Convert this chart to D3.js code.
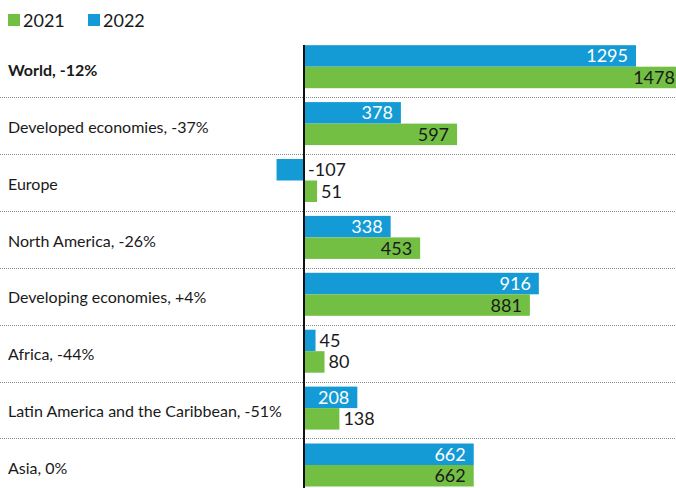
<!DOCTYPE html>
<html>
<head>
<meta charset="utf-8">
<script src="https://d3js.org/d3.v7.min.js"></script>
<style>
    body { margin: 0; background: #fff; }
    svg { display: block; font-family: Lato, "Open Sans", sans-serif; }
    .region-label { font-size: 16px; fill: #1a1a1a; }
    .region-label.bold { font-weight: bold; }
    .value-label { font-size: 18px; }
    .legend-text { font-size: 18px; fill: #1a1a1a; }
</style>
</head>
<body>
<svg id="chart"></svg>
<script>
// regions top to bottom
const regions = [
    "World, -12%",
    "Developed economies, -37%",
    "Europe",
    "North America, -26%",
    "Developing economies, +4%",
    "Africa, -44%",
    "Latin America and the Caribbean, -51%",
    "Asia, 0%"
];
const values2021 = [1478, 597, 51, 453, 881, 80, 138, 662];
const values2022 = [1295, 378, -107, 338, 916, 45, 208, 662];
const years = ["2022", "2021"];   // order inside each row (blue on top)
const legendYears = ["2021", "2022"];

const colors = { "2021": "#72bf44", "2022": "#149bd6" };

class barChart {
    constructor(_config) {
        this.config = {
            parentElement: _config.parentElement,
            containerWidth: _config.containerWidth,
            containerHeight: _config.containerHeight,
            zeroX: 304,
            top: 40.2,
            rowHeight: 56.9
        };
        this.data = [];
        regions.forEach((r, i) => {
            this.data.push({ region: r, year: "2022", value: values2022[i] });
            this.data.push({ region: r, year: "2021", value: values2021[i] });
        });
        this.initVis();
    }

    initVis() {
        let vis = this;

        vis.svg = d3.select(vis.config.parentElement)
            .attr('width', vis.config.containerWidth)
            .attr('height', vis.config.containerHeight);

        // 1295 ends at ~636px
        vis.xScale = d3.scaleLinear()
            .domain([0, 1295])
            .range([vis.config.zeroX, 636]);

        vis.yScale = d3.scaleBand()
            .domain(regions)
            .range([vis.config.top, vis.config.top + regions.length * vis.config.rowHeight])
            .paddingInner(0);

        vis.ySub = d3.scaleBand()
            .domain(years)
            .range([5, 48]);

        // legend
        const legend = vis.svg.append('g')
            .selectAll('g')
            .data(legendYears)
            .join('g')
            .attr('transform', (d, i) => `translate(${8 + i * 80}, 0)`);
        legend.append('rect')
            .attr('x', 0).attr('y', 14)
            .attr('width', 12).attr('height', 12)
            .attr('fill', d => colors[d]);
        legend.append('text')
            .attr('class', 'legend-text')
            .attr('x', 15).attr('y', 26.5)
            .text(d => d);

        // dotted separators
        vis.svg.append('g')
            .selectAll('line')
            .data(regions.slice(0, -1))
            .join('line')
            .attr('x1', 0).attr('x2', vis.config.containerWidth)
            .attr('y1', d => Math.round(vis.yScale(d) + vis.yScale.bandwidth()) + 0.5)
            .attr('y2', d => Math.round(vis.yScale(d) + vis.yScale.bandwidth()) + 0.5)
            .attr('stroke', '#8a8a8a')
            .attr('stroke-width', 1)
            .attr('stroke-dasharray', '1,1');

        // region labels
        vis.svg.append('g')
            .selectAll('text')
            .data(regions)
            .join('text')
            .attr('class', (d, i) => i === 0 ? 'region-label bold' : 'region-label')
            .attr('x', 8)
            .attr('y', d => vis.yScale(d) + 30)
            .attr('dy', '0.35em')
            .text(d => d);

        vis.updateVis();
    }

    updateVis() {
        let vis = this;
        const rowY = d => vis.yScale(d.region) + vis.ySub(d.year);

        vis.svg.append('g')
            .selectAll('rect')
            .data(vis.data)
            .join('rect')
            .attr('x', d => vis.xScale(Math.min(0, d.value)))
            .attr('y', rowY)
            .attr('width', d => Math.abs(vis.xScale(d.value) - vis.xScale(0)))
            .attr('height', vis.ySub.bandwidth())
            .attr('fill', d => colors[d.year]);

        // labels: inside the bar when it is long enough, else just right of it
        const inside = d => d.value >= 200;
        vis.svg.append('g')
            .selectAll('text')
            .data(vis.data)
            .join('text')
            .attr('class', 'value-label')
            .attr('x', d => inside(d) ? vis.xScale(d.value) - 8 : vis.xScale(Math.max(0, d.value)) + 4)
            .attr('y', d => rowY(d) + vis.ySub.bandwidth() / 2)
            .attr('dy', '0.36em')
            .attr('text-anchor', d => inside(d) ? 'end' : 'start')
            .attr('fill', d => inside(d) && d.year === "2022" ? '#ffffff' : '#1a1a1a')
            .text(d => d.value);

        // zero line
        vis.svg.append('line')
            .attr('x1', vis.xScale(0)).attr('x2', vis.xScale(0))
            .attr('y1', 45).attr('y2', vis.config.containerHeight)
            .attr('stroke', '#111')
            .attr('stroke-width', 2);
    }
}

new barChart({ parentElement: '#chart', containerWidth: 676, containerHeight: 488 });
</script>
</body>
</html>
